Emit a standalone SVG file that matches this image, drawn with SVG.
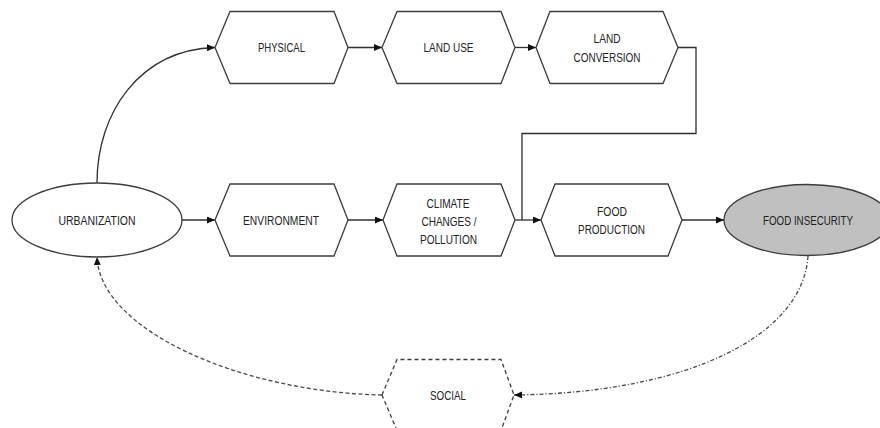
<svg xmlns="http://www.w3.org/2000/svg" width="880" height="428" viewBox="0 0 880 428">
<defs>
<style>
.shape{fill:#fff;stroke:#3c3c3c;stroke-width:1.3}
.grey{fill:#c0c0c0;stroke:#3c3c3c;stroke-width:1.3}
.dash{fill:#fff;stroke:#3c3c3c;stroke-width:1.3;stroke-dasharray:4 3}
.lbl{font-family:"Liberation Sans",Arial,sans-serif;font-size:12.5px;fill:#222;text-anchor:middle}
.conn{fill:none;stroke:#2f2f2f;stroke-width:1.3}
.dashed{stroke-dasharray:4 2.5;stroke:#4a4a4a}
.dashdot{stroke-dasharray:4 2 1.2 2;stroke:#4a4a4a}
</style>
<marker id="arr" viewBox="0 0 8 7" refX="8" refY="3.5" markerWidth="8" markerHeight="7" markerUnits="userSpaceOnUse" orient="auto">
<path d="M0,0 L8,3.5 L0,7 z" fill="#111"/>
</marker>
</defs>
<rect width="880" height="428" fill="#fff"/>

<g id="connectors">
<path class="conn" d="M97,183 C97,112 140,50 215,47.5" marker-end="url(#arr)"/>
<line class="conn" x1="348" y1="47.5" x2="382" y2="47.5" marker-end="url(#arr)"/>
<line class="conn" x1="515" y1="47.5" x2="536" y2="47.5" marker-end="url(#arr)"/>
<path class="conn" d="M678,47.5 H696 V133.5 H522 V220"/>
<line class="conn" x1="182" y1="220" x2="215" y2="220" marker-end="url(#arr)"/>
<line class="conn" x1="348" y1="220" x2="383" y2="220" marker-end="url(#arr)"/>
<line class="conn" x1="515" y1="220" x2="541" y2="220" marker-end="url(#arr)"/>
<line class="conn" x1="682" y1="220" x2="724" y2="220" marker-end="url(#arr)"/>
<path class="conn dashdot" d="M808,256 C803,335 690,393 514,395" marker-end="url(#arr)"/>
<path class="conn dashed" d="M382,395 C240,392 100,330 97,257" marker-end="url(#arr)"/>
</g>

<g id="urbanization">
<ellipse class="shape" cx="97" cy="220" rx="85" ry="37"/>
<text class="lbl" x="97" y="224.5" textLength="77" lengthAdjust="spacingAndGlyphs">URBANIZATION</text>
</g>

<g id="physical">
<polygon class="shape" points="215,47.5 230,11.5 334,11.5 348,47.5 334,83.5 230,83.5"/>
<text class="lbl" x="281.5" y="52" textLength="47" lengthAdjust="spacingAndGlyphs">PHYSICAL</text>
</g>

<g id="land-use">
<polygon class="shape" points="382,47.5 397,11.5 501,11.5 515,47.5 501,83.5 397,83.5"/>
<text class="lbl" x="448.5" y="52" textLength="50" lengthAdjust="spacingAndGlyphs">LAND USE</text>
</g>

<g id="land-conversion">
<polygon class="shape" points="536,47.5 550,11.5 663,11.5 678,47.5 663,83.5 550,83.5"/>
<text class="lbl" x="607" y="42.5" textLength="27" lengthAdjust="spacingAndGlyphs">LAND</text>
<text class="lbl" x="607" y="61.5" textLength="67" lengthAdjust="spacingAndGlyphs">CONVERSION</text>
</g>

<g id="environment">
<polygon class="shape" points="215,220 230,184 334,184 348,220 334,256 230,256"/>
<text class="lbl" x="281" y="224.5" textLength="76" lengthAdjust="spacingAndGlyphs">ENVIRONMENT</text>
</g>

<g id="climate">
<polygon class="shape" points="383,220 397,184 501,184 515,220 501,256 397,256"/>
<text class="lbl" x="448" y="207.5" textLength="43" lengthAdjust="spacingAndGlyphs">CLIMATE</text>
<text class="lbl" x="449" y="225.5" textLength="55" lengthAdjust="spacingAndGlyphs">CHANGES /</text>
<text class="lbl" x="448.5" y="243.5" textLength="57" lengthAdjust="spacingAndGlyphs">POLLUTION</text>
</g>

<g id="food-production">
<polygon class="shape" points="541,220 555,184 668,184 682,220 668,256 555,256"/>
<text class="lbl" x="612" y="216" textLength="30" lengthAdjust="spacingAndGlyphs">FOOD</text>
<text class="lbl" x="611.5" y="234" textLength="67" lengthAdjust="spacingAndGlyphs">PRODUCTION</text>
</g>

<g id="food-insecurity">
<ellipse class="grey" cx="807" cy="220" rx="83" ry="35.5"/>
<text class="lbl" x="808" y="225" textLength="90" lengthAdjust="spacingAndGlyphs">FOOD INSECURITY</text>
</g>

<g id="social">
<polygon class="dash" points="382,395 397,359.5 501,359.5 514,395 501,430.5 397,430.5"/>
<text class="lbl" x="448" y="399.5" textLength="36" lengthAdjust="spacingAndGlyphs">SOCIAL</text>
</g>
</svg>
